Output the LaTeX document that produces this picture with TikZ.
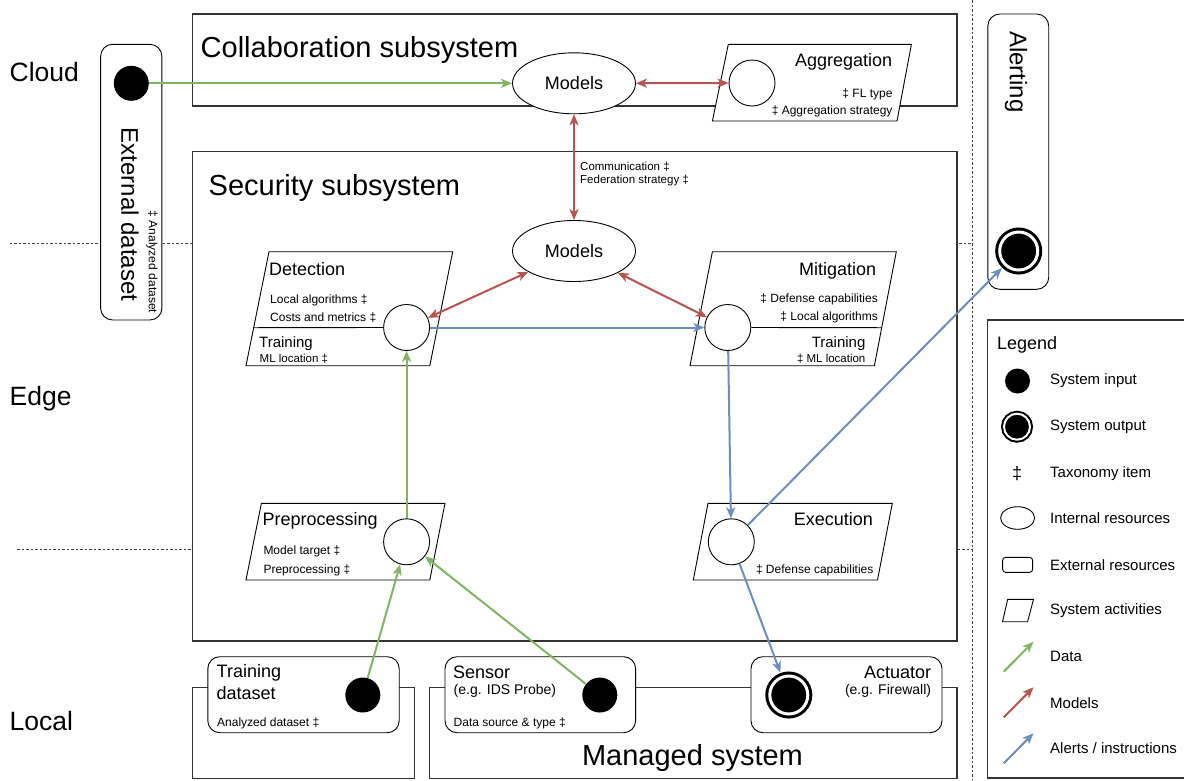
\documentclass[tikz,border=0pt]{standalone}
\usepackage{fontspec}
\setmainfont{Liberation Sans}
\usetikzlibrary{arrows.meta,shapes.geometric}

\definecolor{datagreen}{HTML}{82B366}
\definecolor{modelred}{HTML}{B85450}
\definecolor{alertblue}{HTML}{6C8EBF}

\tikzset{   inres/.style={draw,circle,fill=white,minimum size=46pt,inner sep=0pt,line width=0.9pt},
            sysin/.style={circle,fill=black,minimum size=35pt,inner sep=0pt},
            sysout/.style={circle,draw=black,fill=black,line width=3pt,double=white,double distance=3pt,minimum size=38pt,inner sep=0pt,outer sep=5pt},
            models/.style={draw,ellipse,fill=white,minimum width=123pt,minimum height=61pt,inner sep=0pt,line width=0.9pt,font=\fontsize{18}{20}\selectfont},
            extres/.style={draw,rounded corners=12pt,fill=white,line width=0.9pt},
            sysbox/.style={draw=black!80,fill=white,line width=1.2pt},
            act/.style={draw,fill=white,line width=0.9pt},
            layer/.style={draw=black!75,dash pattern=on 2.5pt off 2pt,line width=0.8pt},
            data/.style={draw=datagreen,line width=2pt,-{Stealth[length=11pt,width=9pt,inset=3pt]}},
            model/.style={draw=modelred,line width=2pt,{Stealth[length=11pt,width=9pt,inset=3pt]}-{Stealth[length=11pt,width=9pt,inset=3pt]}},
            alert/.style={draw=alertblue,line width=2pt,-{Stealth[length=11pt,width=9pt,inset=3pt]}},
            tregion/.style={inner sep=0pt,font=\fontsize{26.5}{30}\selectfont},
            tbig/.style={inner sep=0pt,font=\fontsize{29}{32}\selectfont},
            tvert/.style={inner sep=0pt,font=\fontsize{24}{27}\selectfont},
            ttitle/.style={inner sep=0pt,font=\fontsize{18}{20}\selectfont},
            tmid/.style={inner sep=0pt,font=\fontsize{15}{17}\selectfont},
            teg/.style={inner sep=0pt,font=\fontsize{14}{16}\selectfont},
            tleg/.style={inner sep=0pt,font=\fontsize{15}{17}\selectfont},
            tsmall/.style={inner sep=0pt,font=\fontsize{12}{14}\selectfont},
            ttiny/.style={inner sep=0pt,font=\fontsize{11.5}{13}\selectfont},
}

\begin{document}
\begin{tikzpicture}[x=1pt,y=-1pt]
    \useasboundingbox (0,0) rectangle (1184,780);

    \draw[layer] (9.6,243.3) -- (972.6,243.3);   % layer borders
    \draw[layer] (17,549.3) -- (972.6,549.3);
    \draw[layer] (972.6,0) -- (972.6,780);

    \node[tregion,anchor=base west] (cloud) at (9.5,81.7) {Cloud};   % layer names
    \node[tregion,anchor=base west] (edge) at (9.5,405.7) {Edge};
    \node[tregion,anchor=base west] (local) at (9.5,730.7) {Local};

    \draw[extres] (100.6,44.3) rectangle (161.9,320);   % side boxes
    \draw[extres] (987.8,14) rectangle (1048.7,289.3);
    \draw[sysbox] (987.3,320) rectangle (1200,778);

    \draw[sysbox] (192.5,14) rectangle (957,106);   % subsystems
    \draw[sysbox] (192.5,151.7) rectangle (957,641);
    \draw[sysbox] (192.5,687.3) rectangle (414.5,778.3);
    \draw[sysbox] (429.8,687.3) rectangle (957,778.3);

    \node[tbig,anchor=base west] (collab) at (200.5,57.5) {Collaboration subsystem};
    \node[tbig,anchor=base west] (secu) at (208.5,195.8) {Security subsystem};
    \node[tbig,anchor=base] (managed) at (692.5,765.8) {Managed system};

    \draw[act] (728.3,44.3) -- (911.4,44.3) -- (897,121) -- (712.4,121) -- cycle;   % activities
    \draw[act] (269,251.7) -- (452.7,251.7) -- (429.8,365.7) -- (246,365.7) -- cycle;
    \draw[act] (712.4,251.7) -- (896.3,251.7) -- (874.4,365.7) -- (690,365.7) -- cycle;
    \draw[act] (261.4,503.3) -- (445,503.3) -- (429.8,580) -- (246,580) -- cycle;
    \draw[act] (708,503.3) -- (892.3,503.3) -- (877.5,580) -- (693.3,580) -- cycle;

    \draw[extres] (207.8,656.7) rectangle (399.2,732.7);   % local resources
    \draw[extres] (445,656.7) rectangle (635.6,732.7);
    \draw[extres] (751,656.7) rectangle (942,732.7);

    \node[models] (mcloud) at (574,83.3) {Models};   % internal resources
    \node[models] (medge) at (574,251) {Models};
    \node[inres] (aggc) at (752,83) {};
    \node[inres] (detc) at (406.6,327.5) {};
    \node[inres] (mitc) at (727.8,327.5) {};
    \node[inres] (prec) at (406.6,541.8) {};
    \node[inres] (exc) at (731.3,541.8) {};

    \draw[line width=0.9pt] (253.7,327.7) -- (detc.west);   % training split
    \draw[line width=0.9pt] (mitc.east) -- (881.7,327.7);

    \node[sysin] (extin) at (131.3,83.3) {};   % inputs and outputs
    \node[sysin] (trin) at (362.8,695) {};
    \node[sysin] (sensin) at (599.8,695) {};
    \node[sysout] (actout) at (788.8,695) {};
    \node[sysout] (alertout) at (1018.7,251) {};

    \node[tvert,rotate=-90] (extlbl) at (130,214.5) {External dataset};
    \node[tsmall,rotate=-90] (extax) at (152,262) {‡ Analyzed dataset};
    \node[tvert,rotate=-90] (alertlbl) at (1016,71.7) {Alerting};

    \node[ttitle,anchor=base east] (agglbl) at (892.3,66.3) {Aggregation};
    \node[tsmall,anchor=base east] (aggt1) at (892.7,97) {‡ FL type};
    \node[tsmall,anchor=base east] (aggt2) at (892.7,114.6) {‡ Aggregation strategy};

    \node[ttiny,anchor=base west] (comm1) at (580,170.5) {Communication ‡};
    \node[ttiny,anchor=base west] (comm2) at (580,183.9) {Federation strategy ‡};

    \node[ttitle,anchor=base west] (detlbl) at (269,275) {Detection};
    \node[tsmall,anchor=base west] (dett1) at (270,303.5) {Local algorithms ‡};
    \node[tsmall,anchor=base west] (dett2) at (270,321) {Costs and metrics ‡};
    \node[tmid,anchor=base west] (dettr) at (259,347.4) {Training};
    \node[ttiny,anchor=base west] (dett3) at (259.5,362.2) {ML location ‡};

    \node[ttitle,anchor=base east] (mitlbl) at (876.4,275) {Mitigation};
    \node[tsmall,anchor=base east] (mitt1) at (878,302.6) {‡ Defense capabilities};
    \node[tsmall,anchor=base east] (mitt2) at (878,320.3) {‡ Local algorithms};
    \node[tmid,anchor=base east] (mittr) at (865.6,347.4) {Training};
    \node[ttiny,anchor=base east] (mitt3) at (865.6,362.2) {‡ ML location};

    \node[ttitle,anchor=base west] (prelbl) at (262.5,525.6) {Preprocessing};
    \node[tsmall,anchor=base west] (pret1) at (263.3,554.3) {Model target ‡};
    \node[tsmall,anchor=base west] (pret2) at (263.3,573.6) {Preprocessing ‡};

    \node[ttitle,anchor=base east] (exlbl) at (873.2,525.6) {Execution};
    \node[tsmall,anchor=base east] (ext1) at (873.6,573.6) {‡ Defense capabilities};

    \node[ttitle,anchor=base west] (trlbl) at (216.5,677.9) {Training};
    \node[ttitle,anchor=base west] (trlbl2) at (216.5,699.7) {dataset};
    \node[tsmall,anchor=base west] (trt1) at (217,726) {Analyzed dataset ‡};
    \node[ttitle,anchor=base west] (senlbl) at (453,678) {Sensor};
    \node[teg,anchor=base west] (seneg) at (453.5,694) {(e.g. IDS Probe)};
    \node[tsmall,anchor=base west] (sent1) at (453.5,726) {Data source \& type ‡};
    \node[ttitle,anchor=base east] (actlbl) at (931.3,678) {Actuator};
    \node[teg,anchor=base east] (acteg) at (931.3,694) {(e.g. Firewall)};

    \draw[data] (extin) -- (mcloud);   % connectors
    \draw[model] (mcloud) -- (aggc);
    \draw[model] (mcloud) -- (medge);
    \draw[model] (medge) -- (detc);
    \draw[model] (medge) -- (mitc);
    \draw[alert] (detc) -- (mitc);
    \draw[data] (prec) -- (detc);
    \draw[data] (trin) -- (prec);
    \draw[data] (sensin) -- (prec);
    \draw[alert] (mitc) -- (exc);
    \draw[alert] (exc) -- (actout);
    \draw[alert] (exc) -- (alertout);

    \node[ttitle,anchor=base west] (legend) at (997,349.6) {Legend};   % legend
    \node[sysin,minimum size=25pt] (lin) at (1017.5,381) {};
    \node[sysout,minimum size=26pt,line width=2pt,double distance=2pt] (lout) at (1017,426.7) {};
    \node[inner sep=0pt,font=\fontsize{18}{20}\selectfont] (ltax) at (1017,473.3) {‡};
    \node[draw,ellipse,minimum width=34pt,minimum height=22.6pt,inner sep=0pt,line width=0.9pt] (lint) at (1017.6,518) {};
    \node[draw,rounded corners=3pt,minimum width=30pt,minimum height=15pt,inner sep=0pt,line width=0.9pt] (lext) at (1017.6,564.8) {};
    \draw[act] (1007.7,599.3) -- (1033.5,599.3) -- (1027.6,621.7) -- (1002.5,621.7) -- cycle;
    \coordinate (ld1) at (1003.7,671.7);
    \coordinate (ld2) at (1033.5,641.7);
    \coordinate (lm1) at (1003.7,717.3);
    \coordinate (lm2) at (1033.5,687.3);
    \coordinate (la1) at (1003.7,763.3);
    \coordinate (la2) at (1033.5,733.3);
    \draw[data] (ld1) -- (ld2);
    \draw[model,-{Stealth[length=11pt,width=9pt,inset=3pt]}] (lm1) -- (lm2);
    \draw[alert] (la1) -- (la2);

    \node[tleg,anchor=west] (lt1) at (1050,381) {System input};
    \node[tleg,anchor=west] (lt2) at (1050,426.7) {System output};
    \node[tleg,anchor=west] (lt3) at (1050,473.3) {Taxonomy item};
    \node[tleg,anchor=west] (lt4) at (1050,517.7) {Internal resources};
    \node[tleg,anchor=west] (lt5) at (1050,565) {External resources};
    \node[tleg,anchor=west] (lt6) at (1050,611) {System activities};
    \node[tleg,anchor=west] (lt7) at (1050,656.7) {Data};
    \node[tleg,anchor=west] (lt8) at (1050,702.7) {Models};
    \node[tleg,anchor=west] (lt9) at (1050,748.3) {Alerts / instructions};
\end{tikzpicture}
\end{document}
